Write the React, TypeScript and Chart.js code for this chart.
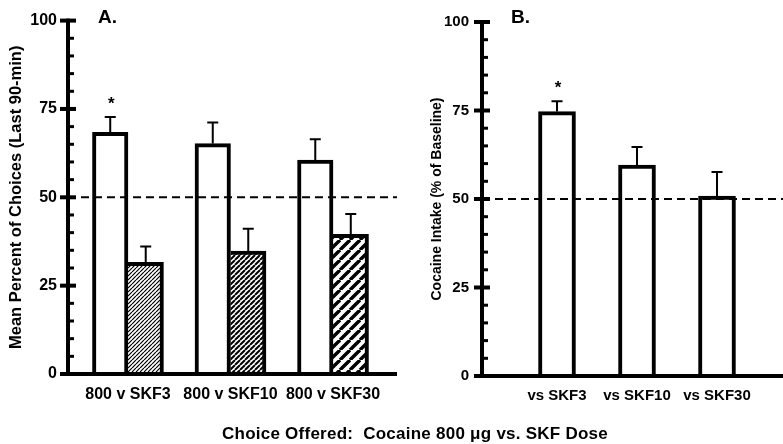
import React, { useEffect, useRef } from 'react';
import { Chart, registerables } from 'chart.js';

Chart.register(...registerables);

const FONT = '"Liberation Sans", Arial, Helvetica, sans-serif';

// ---------- Data ----------
const categoriesA = ['800 v SKF3', '800 v SKF10', '800 v SKF30'];
const cocaineChoice = [68.4, 65.2, 60.5];
const cocaineChoiceErr = [4.3, 6.0, 5.9];
const skfChoice = [31.6, 34.8, 39.5];
const skfChoiceErr = [4.5, 6.3, 5.8];
const sigA = [true, false, false];

const categoriesB = ['vs SKF3', 'vs SKF10', 'vs SKF30'];
const cocaineIntake = [74.7, 59.6, 50.8];
const cocaineIntakeErr = [2.9, 5.1, 6.8];
const sigB = [true, false, false];

const yTickValues = [0, 25, 50, 75, 100];
const yMinorStep = 5;
const referenceLine = 50;

const titleA = 'Mean Percent of Choices (Last 90-min)';
const titleB = 'Cocaine Intake (% of Baseline)';
const xTitle = 'Choice Offered:  Cocaine 800 \u03bcg vs. SKF Dose';

// ---------- Helpers ----------
function makeHatch(size: number, lw: number) {
  const c = document.createElement('canvas');
  c.width = size;
  c.height = size;
  const g = c.getContext('2d')!;
  g.fillStyle = '#fff';
  g.fillRect(0, 0, size, size);
  g.strokeStyle = '#000';
  g.lineWidth = lw;
  g.beginPath();
  for (let k = -1; k <= 1; k++) {
    g.moveTo(k * size, size);
    g.lineTo((k + 1) * size, 0);
  }
  g.stroke();
  return g.createPattern(c, 'repeat')!;
}

function decor(cfg: {
  panel: string;
  panelX: number;
  errs: number[][];
  stars: boolean[][];
}) {
  return {
    id: 'decor' + cfg.panel,
    afterDatasetsDraw(chart: any) {
      const ctx = chart.ctx;
      const area = chart.chartArea;
      const ys = chart.scales.y;
      ctx.save();
      ctx.strokeStyle = '#000';
      ctx.lineWidth = 2;
      ctx.setLineDash([8, 5]);
      ctx.beginPath();
      const yr = ys.getPixelForValue(referenceLine);
      ctx.moveTo(area.left, yr);
      ctx.lineTo(area.right, yr);
      ctx.stroke();
      ctx.setLineDash([]);
      chart.data.datasets.forEach((ds: any, di: number) => {
        const meta = chart.getDatasetMeta(di);
        meta.data.forEach((el: any, i: number) => {
          const v = ds.data[i].y;
          const e = cfg.errs[di][i];
          const yTop = ys.getPixelForValue(v);
          const yCap = ys.getPixelForValue(v + e);
          ctx.lineWidth = 2;
          ctx.beginPath();
          ctx.moveTo(el.x, yTop);
          ctx.lineTo(el.x, yCap);
          ctx.moveTo(el.x - 5.5, yCap);
          ctx.lineTo(el.x + 5.5, yCap);
          ctx.stroke();
          if (cfg.stars[di] && cfg.stars[di][i]) {
            ctx.fillStyle = '#000';
            ctx.font = 'bold 17px ' + FONT;
            ctx.textAlign = 'center';
            ctx.textBaseline = 'alphabetic';
            ctx.fillText('*', el.x + 1, yCap - 8);
          }
        });
      });
      ctx.restore();
    },
    afterDraw(chart: any) {
      const ctx = chart.ctx;
      const area = chart.chartArea;
      const ys = chart.scales.y;
      ctx.save();
      ctx.strokeStyle = '#000';
      ctx.fillStyle = '#000';
      const y0 = ys.getPixelForValue(0);
      const y100 = ys.getPixelForValue(100);
      ctx.fillRect(area.left - 2, y100 - 2, 4, y0 - y100 + 4);
      for (let v = 0; v <= 100; v += yMinorStep) {
        const y = ys.getPixelForValue(v);
        if (yTickValues.includes(v)) {
          ctx.fillRect(area.left - 8, y - 2, 16, 4);
        } else {
          ctx.fillRect(area.left, y - 1.5, 6, 3);
        }
      }
      ctx.fillRect(area.left - 8, y0 - 2, area.right - area.left + 8, 4);
      ctx.font = 'bold 19px ' + FONT;
      ctx.textAlign = 'left';
      ctx.textBaseline = 'alphabetic';
      ctx.fillText(cfg.panel, cfg.panelX, 23);
      ctx.restore();
    },
  };
}

function baseOptions(o: {
  yWidth: number;
  xHeight: number;
  top: number;
  right: number;
  xMin: number;
  xMax: number;
  labels: string[];
  title: string;
  titleSize: number;
  titlePad: number;
  tickPad: number;
  yTickSize: number;
  xTickSize: number;
}) {
  return {
    responsive: false,
    animation: false as const,
    layout: { padding: { top: o.top, right: o.right, left: 0, bottom: 0 } },
    plugins: { legend: { display: false }, tooltip: { enabled: false } },
    scales: {
      x: {
        type: 'linear' as const,
        min: o.xMin,
        max: o.xMax,
        offset: false,
        grid: { display: false, drawTicks: false, tickLength: 0 },
        border: { display: false },
        afterBuildTicks: (s: any) => {
          s.ticks = o.labels.map((_, i) => ({ value: i + 1 }));
        },
        afterFit: (s: any) => {
          s.height = o.xHeight;
        },
        ticks: {
          autoSkip: false,
          maxRotation: 0,
          padding: 11,
          color: '#000',
          font: { family: FONT, size: o.xTickSize, weight: 'bold' as const },
          callback: (v: any) => o.labels[Math.round(v) - 1] ?? '',
        },
      },
      y: {
        min: 0,
        max: 100,
        grid: { display: false, drawTicks: false, tickLength: 0 },
        border: { display: false },
        afterBuildTicks: (s: any) => {
          s.ticks = yTickValues.map((v) => ({ value: v }));
        },
        afterFit: (s: any) => {
          s.width = o.yWidth;
        },
        ticks: {
          padding: o.tickPad,
          color: '#000',
          font: { family: FONT, size: o.yTickSize, weight: 'bold' as const },
        },
        title: {
          display: true,
          text: o.title,
          color: '#000',
          font: { family: FONT, size: o.titleSize, weight: 'bold' as const },
          padding: { top: o.titlePad, bottom: 0 },
        },
      },
    },
  };
}

export default function App() {
  const refA = useRef<HTMLCanvasElement>(null);
  const refB = useRef<HTMLCanvasElement>(null);

  useEffect(() => {
    const h1 = makeHatch(4, 1.2);
    const h2 = makeHatch(5, 2.0);
    const h3 = makeHatch(10, 3.4);

    const chartA = new Chart(refA.current!, {
      type: 'bar',
      data: {
        datasets: [
          {
            data: cocaineChoice.map((v, i) => ({ x: i + 1, y: v })),
            backgroundColor: '#fff',
            borderColor: '#000',
            borderWidth: { top: 4, left: 4, right: 4, bottom: 0 },
            barThickness: 35.5,
          },
          {
            data: skfChoice.map((v, i) => ({ x: i + 1, y: v })),
            backgroundColor: [h1, h2, h3],
            borderColor: '#000',
            borderWidth: { top: 4, left: 0, right: 4, bottom: 0 },
            barThickness: 35.5,
          },
        ],
      },
      options: baseOptions({
        yWidth: 68,
        xHeight: 70,
        top: 16,
        right: 3,
        xMin: 0.415,
        xMax: 3.624,
        labels: categoriesA,
        title: titleA,
        titleSize: 16.5,
        titlePad: 7,
        tickPad: 11,
        yTickSize: 16,
        xTickSize: 16,
      }) as any,
      plugins: [
        decor({
          panel: 'A.',
          panelX: 98,
          errs: [cocaineChoiceErr, skfChoiceErr],
          stars: [sigA, [false, false, false]],
        }),
      ],
    });

    const chartB = new Chart(refB.current!, {
      type: 'bar',
      data: {
        datasets: [
          {
            data: cocaineIntake.map((v, i) => ({ x: i + 1, y: v })),
            backgroundColor: '#fff',
            borderColor: '#000',
            borderWidth: { top: 4, left: 4, right: 4, bottom: 0 },
            barThickness: 37,
          },
        ],
      },
      options: baseOptions({
        yWidth: 82,
        xHeight: 68,
        top: 15,
        right: 0,
        xMin: 0.0625,
        xMax: 3.825,
        labels: categoriesB,
        title: titleB,
        titleSize: 14,
        titlePad: 28.6,
        tickPad: 13,
        yTickSize: 15,
        xTickSize: 15,
      }) as any,
      plugins: [
        decor({
          panel: 'B.',
          panelX: 111,
          errs: [cocaineIntakeErr],
          stars: [sigB],
        }),
      ],
    });

    return () => {
      chartA.destroy();
      chartB.destroy();
    };
  }, []);

  return (
    <div
      style={{
        position: 'absolute',
        left: 0,
        top: 0,
        width: 783,
        height: 444,
        background: '#fff',
        overflow: 'hidden',
      }}
    >
      <canvas
        ref={refA}
        width={400}
        height={444}
        style={{ position: 'absolute', left: 0, top: 0 }}
      />
      <canvas
        ref={refB}
        width={383}
        height={444}
        style={{ position: 'absolute', left: 400, top: 0 }}
      />
      <div
        style={{
          position: 'absolute',
          left: 415,
          top: 425,
          transform: 'translateX(-50%)',
          whiteSpace: 'pre',
          fontFamily: FONT,
          fontWeight: 'bold',
          fontSize: 17,
          letterSpacing: '0.25px',
          lineHeight: '18px',
          color: '#000',
        }}
      >
        {xTitle}
      </div>
    </div>
  );
}
